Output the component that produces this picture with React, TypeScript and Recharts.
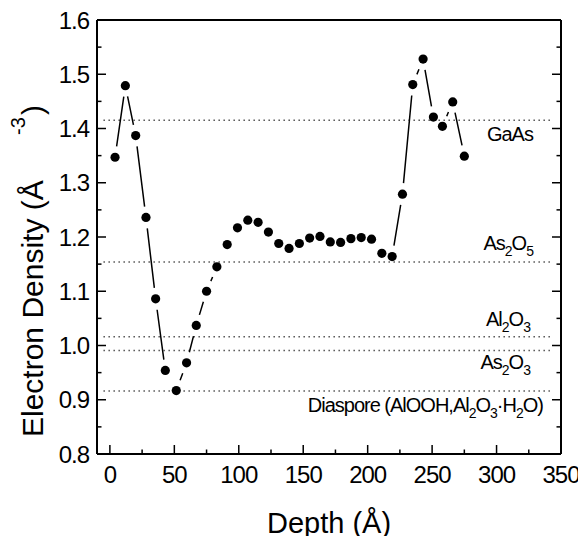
import React from "react";
import {
  ReferenceLine,
  Scatter,
  ScatterChart,
  XAxis,
  YAxis,
} from "recharts";

// depth (Å) and electron density (Å^-3)
const depth = [
  4, 12, 20, 28, 35.5, 43, 51.5, 59.5, 67, 75, 83, 91, 99, 107, 115, 123, 131,
  139, 147, 155, 163, 171, 179, 187, 195, 203, 211, 219, 227, 235, 243, 251,
  258, 266, 275,
];
const density = [
  1.347, 1.479, 1.387, 1.236, 1.086, 0.954, 0.917, 0.968, 1.037, 1.1, 1.145,
  1.186, 1.217, 1.231, 1.227, 1.209, 1.188, 1.179, 1.188, 1.198, 1.201, 1.191,
  1.19, 1.197, 1.199, 1.196, 1.17, 1.164, 1.279, 1.481, 1.528, 1.421, 1.404,
  1.449, 1.349,
];

const xTicks = [0, 25, 50, 75, 100, 125, 150, 175, 200, 225, 250, 275, 300, 325, 350];
const yTicks = [
  0.8, 0.85, 0.9, 0.95, 1.0, 1.05, 1.1, 1.15, 1.2, 1.25, 1.3, 1.35, 1.4, 1.45,
  1.5, 1.55, 1.6,
];

// reference densities of the compounds
const refValues = [1.415, 1.154, 1.016, 0.991, 0.916];
const refLabels = [
  [["GaAs"]],
  [["As"], ["2", "sub"], ["O"], ["5", "sub"]],
  [["Al"], ["2", "sub"], ["O"], ["3", "sub"]],
  [["As"], ["2", "sub"], ["O"], ["3", "sub"]],
  [
    ["Diaspore (AlOOH,Al"],
    ["2", "sub"],
    ["O"],
    ["3", "sub"],
    ["·H"],
    ["2", "sub"],
    ["O)"],
  ],
];
// label placement: shift from line end (px), baseline offset from line (px)
const refLabelPos = [
  [-19, 21],
  [-19, -12],
  [-22, -10.5],
  [-22, 18.5],
  [-9, 20.5],
];

const data = depth.map((d, i) => ({ depth: d, density: density[i] }));

const FONT = '"Liberation Sans", Arial, Helvetica, sans-serif';

const isMajor = (v: number, step: number) =>
  Math.abs(v / step - Math.round(v / step)) < 1e-6;

function BottomTick(props: any) {
  const { x, y, payload } = props;
  const major = isMajor(payload.value, 50);
  return (
    <g>
      <line x1={x} y1={y} x2={x} y2={y - (major ? 9 : 4.5)} stroke="#000" strokeWidth={1.5} />
      {major && (
        <text x={x} y={y + 29} textAnchor="middle" fontSize={24} letterSpacing={-1} fill="#000" fontFamily={FONT}>
          {payload.value}
        </text>
      )}
    </g>
  );
}

function TopTick(props: any) {
  const { x, y, payload } = props;
  const major = isMajor(payload.value, 50);
  return <line x1={x} y1={y} x2={x} y2={y + (major ? 9 : 4.5)} stroke="#000" strokeWidth={1.5} />;
}

function LeftTick(props: any) {
  const { x, y, payload } = props;
  const major = isMajor(payload.value, 0.1);
  return (
    <g>
      <line x1={x} y1={y} x2={x + (major ? 9 : 4.5)} y2={y} stroke="#000" strokeWidth={1.5} />
      {major && (
        <text x={x - 8} y={y + 8.5} textAnchor="end" fontSize={24} letterSpacing={-1} fill="#000" fontFamily={FONT}>
          {payload.value.toFixed(1)}
        </text>
      )}
    </g>
  );
}

function RightTick(props: any) {
  const { x, y, payload } = props;
  const major = isMajor(payload.value, 0.1);
  return <line x1={x} y1={y} x2={x - (major ? 9 : 4.5)} y2={y} stroke="#000" strokeWidth={1.5} />;
}

function FormulaLabel(props: any) {
  const { viewBox, parts, pos } = props;
  if (!viewBox) return null;
  const right = viewBox.x + viewBox.width + pos[0];
  const base = viewBox.y + pos[1];
  let level = 0;
  return (
    <text x={right} y={base} textAnchor="end" fontSize={20} letterSpacing={-1} fill="#000" fontFamily={FONT}>
      {parts.map((p: string[], i: number) => {
        const target = p[1] === "sub" ? 6 : 0;
        const dy = target - level;
        level = target;
        return (
          <tspan key={i} dy={dy} fontSize={p[1] === "sub" ? 14 : 20}>
            {p[0]}
          </tspan>
        );
      })}
    </text>
  );
}

// Origin-style connecting line: segments with a gap around each symbol
function GappedLine(props: any) {
  const pts = props.points || [];
  const gap = 11;
  let d = "";
  for (let i = 0; i < pts.length - 1; i++) {
    const a = pts[i];
    const b = pts[i + 1];
    const dx = b.x - a.x;
    const dy = b.y - a.y;
    const len = Math.hypot(dx, dy);
    if (len - 2 * gap < 3) continue;
    const ux = dx / len;
    const uy = dy / len;
    d += `M${a.x + ux * gap},${a.y + uy * gap}L${b.x - ux * gap},${b.y - uy * gap}`;
  }
  return <path d={d} stroke="#000" strokeWidth={1.5} fill="none" />;
}

function YTitle() {
  return (
    <text transform="rotate(-90)" fill="#000" fontFamily={FONT} fontSize={30}>
      <tspan x={-437} y={43}>Electron Density (Å</tspan>
      <tspan x={-135} y={25} fontSize={20}>-3</tspan>
      <tspan x={-115} y={43}>)</tspan>
    </text>
  );
}

function XTitle(props: any) {
  const { viewBox } = props;
  if (!viewBox) return null;
  return (
    <text x={329} y={533} textAnchor="middle" fill="#000" fontFamily={FONT} fontSize={29}>
      Depth (Å)
    </text>
  );
}

export default function App() {
  return (
    <div style={{ position: "absolute", left: 0, top: 0, background: "#fff" }}>
      <ScatterChart
        width={578}
        height={536}
        margin={{ top: 19, right: 16, bottom: 81, left: 96 }}
        style={{ fontFamily: FONT }}
      >
        <XAxis
          xAxisId="bottom"
          dataKey="depth"
          type="number"
          domain={[-10, 350]}
          allowDataOverflow
          ticks={xTicks}
          interval={0}
          height={1}
          tickSize={0}
          tickMargin={0}
          tickLine={false}
          tick={<BottomTick />}
          axisLine={{ stroke: "#000", strokeWidth: 2 }}
          label={<XTitle />}
        />
        <XAxis
          xAxisId="top"
          orientation="top"
          type="number"
          domain={[-10, 350]}
          allowDataOverflow
          ticks={xTicks}
          interval={0}
          height={1}
          tickSize={0}
          tickMargin={0}
          tickLine={false}
          tick={<TopTick />}
          axisLine={{ stroke: "#000", strokeWidth: 2 }}
        />
        <YAxis
          yAxisId="left"
          dataKey="density"
          type="number"
          domain={[0.8, 1.6]}
          allowDataOverflow
          ticks={yTicks}
          interval={0}
          width={1}
          tickSize={0}
          tickMargin={0}
          tickLine={false}
          tick={<LeftTick />}
          axisLine={{ stroke: "#000", strokeWidth: 2 }}
          label={<YTitle />}
        />
        <YAxis
          yAxisId="right"
          orientation="right"
          type="number"
          domain={[0.8, 1.6]}
          allowDataOverflow
          ticks={yTicks}
          interval={0}
          width={1}
          tickSize={0}
          tickMargin={0}
          tickLine={false}
          tick={<RightTick />}
          axisLine={{ stroke: "#000", strokeWidth: 2 }}
        />
        {refValues.map((v, i) => (
          <ReferenceLine
            key={i}
            xAxisId="bottom"
            yAxisId="left"
            segment={[
              { x: -5, y: v },
              { x: 343, y: v },
            ]}
            stroke="#555"
            strokeWidth={1.5}
            strokeDasharray="1.5 3.5"
            label={<FormulaLabel parts={refLabels[i]} pos={refLabelPos[i]} />}
          />
        ))}
        <Scatter
          xAxisId="bottom"
          yAxisId="left"
          data={data}
          fill="#000"
          line={GappedLine}
          shape={(p: any) => <circle cx={p.cx} cy={p.cy} r={4.6} fill="#000" />}
          isAnimationActive={false}
        />
      </ScatterChart>
    </div>
  );
}
